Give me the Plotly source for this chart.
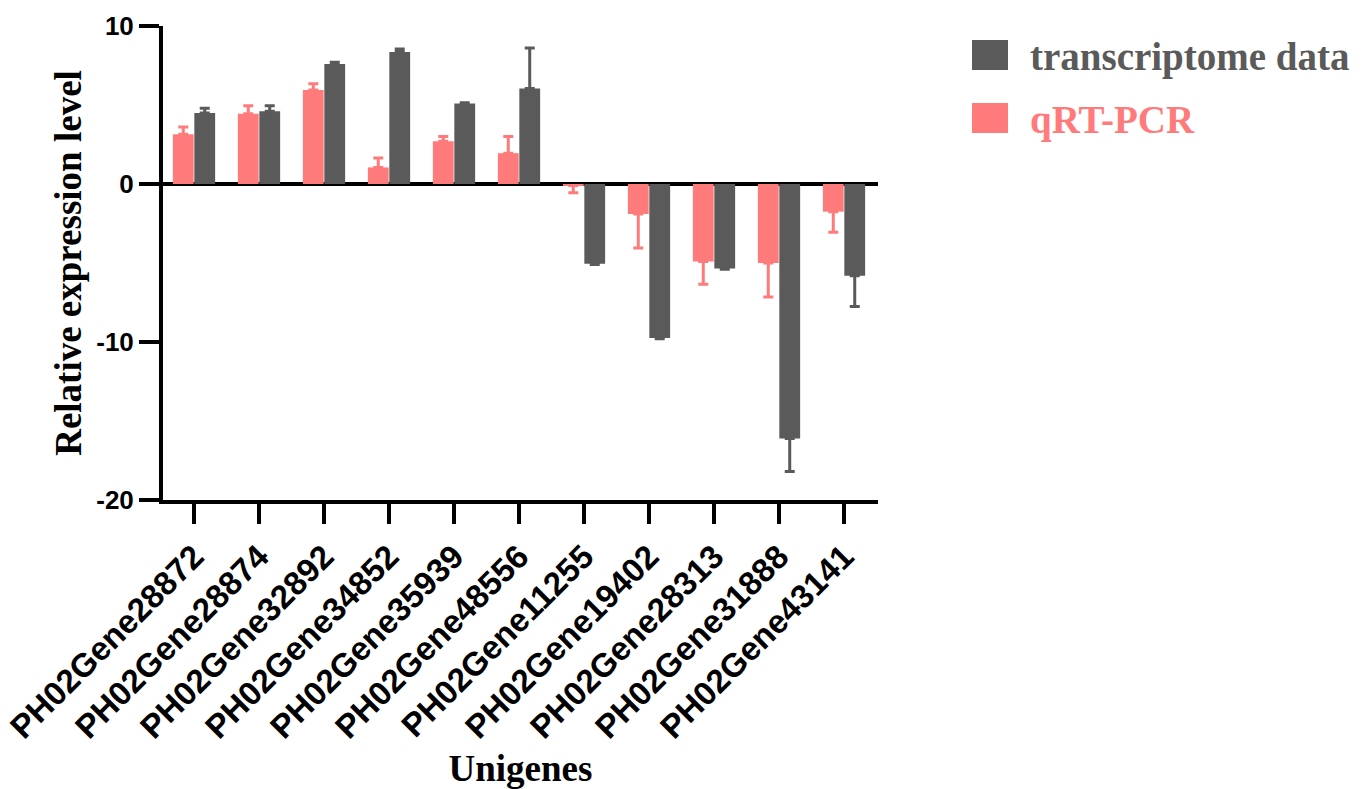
import plotly.graph_objects as go

genes = ["PH02Gene28872", "PH02Gene28874", "PH02Gene32892", "PH02Gene34852",
         "PH02Gene35939", "PH02Gene48556", "PH02Gene11255", "PH02Gene19402",
         "PH02Gene28313", "PH02Gene31888", "PH02Gene43141"]
qrt_pcr = [3.15, 4.45, 5.95, 1.05, 2.7, 1.95, -0.1, -1.9, -4.9, -5.0, -1.75]
qrt_pcr_err = [0.45, 0.5, 0.4, 0.6, 0.3, 1.05, 0.45, 2.15, 1.45, 2.15, 1.3]
transcriptome = [4.5, 4.6, 7.6, 8.35, 5.1, 6.05, -5.05, -9.75, -5.35, -16.1, -5.8]
transcriptome_err = [0.3, 0.35, 0.1, 0.2, 0.05, 2.55, 0.05, 0.05, 0.05, 2.1, 1.95]
series_names = ["transcriptome data", "qRT-PCR"]
y_ticks = [-20, -10, 0, 10]
y_tick_labels = ["-20", "-10", "0", "10"]

PINK = "#FF7B7B"
GRAY = "#5A5A5A"

def one_sided(vals, errs):
    up = [e if v >= 0 else 0 for v, e in zip(vals, errs)]
    down = [e if v < 0 else 0 for v, e in zip(vals, errs)]
    return up, down

fig = go.Figure()
for name, vals, errs, col in [(series_names[1], qrt_pcr, qrt_pcr_err, PINK),
                              (series_names[0], transcriptome, transcriptome_err, GRAY)]:
    up, down = one_sided(vals, errs)
    fig.add_trace(go.Bar(
        x=genes, y=vals, name=name, marker=dict(color=col, line=dict(width=0)),
        error_y=dict(type="data", symmetric=False, array=up, arrayminus=down,
                     color=col, thickness=3, width=5),
        showlegend=False))

L, R, T, B = 163, 878, 26, 500
W, H = 1364, 789

def px(x):
    return (x - L) / (R - L)

def py(y):
    return (B - y) / (B - T)

shapes = []
annotations = []
legend_rows = [(series_names[0], GRAY, 40, 70), (series_names[1], PINK, 103, 133)]
for name, col, top, bot in legend_rows:
    shapes.append(dict(type="rect", xref="paper", yref="paper",
                       x0=px(972), x1=px(1008), y0=py(bot), y1=py(top),
                       fillcolor=col, line=dict(width=0)))
    annotations.append(dict(text=name, xref="paper", yref="paper",
                            x=px(1028), y=py(bot - 13), xanchor="left", yanchor="middle",
                            showarrow=False,
                            font=dict(family="Liberation Serif", size=39, color=col, weight="bold")))

fig.update_layout(
    width=W, height=H,
    margin=dict(l=L, r=W - R, t=T, b=H - B, autoexpand=False),
    paper_bgcolor="white", plot_bgcolor="white",
    barmode="group", bargap=0.34, bargroupgap=0.03,
    shapes=shapes, annotations=annotations,
    xaxis=dict(
        range=[-0.477, 10.523], showgrid=False, zeroline=False,
        showline=True, linecolor="black", linewidth=4,
        ticks="outside", ticklen=20, tickwidth=4, tickcolor="black",
        tickangle=-45, automargin=False,
        tickfont=dict(family="Liberation Sans", size=33, color="black", weight="bold"),
        title=dict(text="Unigenes", standoff=26,
                   font=dict(family="Liberation Serif", size=37, color="black", weight="bold")),
    ),
    yaxis=dict(
        range=[-20, 10], tickvals=y_ticks, ticktext=y_tick_labels, showgrid=False,
        zeroline=True, zerolinecolor="black", zerolinewidth=4,
        showline=True, linecolor="black", linewidth=4,
        ticks="outside", ticklen=20, tickwidth=4, tickcolor="black",
        automargin=False,
        tickfont=dict(family="Liberation Sans", size=26, color="black", weight="bold"),
        title=dict(text="Relative expression level", standoff=4,
                   font=dict(family="Liberation Serif", size=37, color="black", weight="bold")),
    ),
)

fig.write_html("out.html")
